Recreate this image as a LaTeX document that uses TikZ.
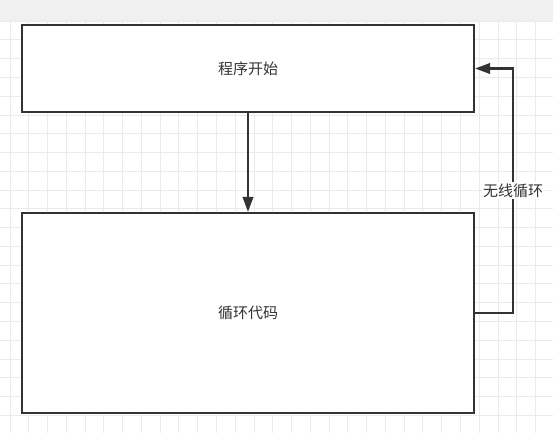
\documentclass[tikz,border=0pt]{standalone}
\usepackage{fontspec}
\setmainfont{Liberation Sans}
\newfontfamily\cjk{Noto Sans CJK SC}
\usetikzlibrary{arrows.meta, calc}
\definecolor{ink}{HTML}{333333}
\definecolor{gridgray}{HTML}{EBEBEB}
\definecolor{bargray}{HTML}{F0F0F0}

\begin{document}
\begin{tikzpicture}[
    x=1pt, y=-1pt,
    arr/.style={-{Triangle[length=15pt, width=10.5pt]}, line width=2.2pt, ink},
    every node/.style={font=\cjk\fontsize{15}{18}\selectfont, text=ink},
    % Process box
    block/.style={rectangle, draw=ink, line width=2.2pt, fill=white,
                  minimum width=452pt, align=center},
    % Grid line of the canvas
    gridline/.style={draw=gridgray, line width=1pt},
    % Label on a connector
    lbl/.style={fill=white, inner sep=1.5pt}
]
\useasboundingbox (0,0) rectangle (553,433);

% ---------- Canvas ----------
\fill[white] (0,0) rectangle (553,433);
\foreach \i in {0,...,29}
    \draw[gridline] (10+\i*18.77, 21) -- (10+\i*18.77, 433);
\foreach \j in {0,...,22}
    \draw[gridline] (0, 21.2+\j*18.77) -- (553, 21.2+\j*18.77);
\fill[bargray] (0,0) rectangle (553,21);

% ---------- Boxes ----------
\node[block, minimum height=87pt] at (248, 68.5) (start) {程序开始};
\node[block, minimum height=200pt] at (248, 313) (loop) {循环代码};

% ---------- Connectors ----------
\draw[arr] (start.south) -- (loop.north);
\coordinate (turn) at ($(loop.east) + (38, 0)$);
\draw[arr] (loop.east) -- (turn) |- node[lbl, pos=0.25] {无线循环} (start.east);

\end{tikzpicture}
\end{document}
